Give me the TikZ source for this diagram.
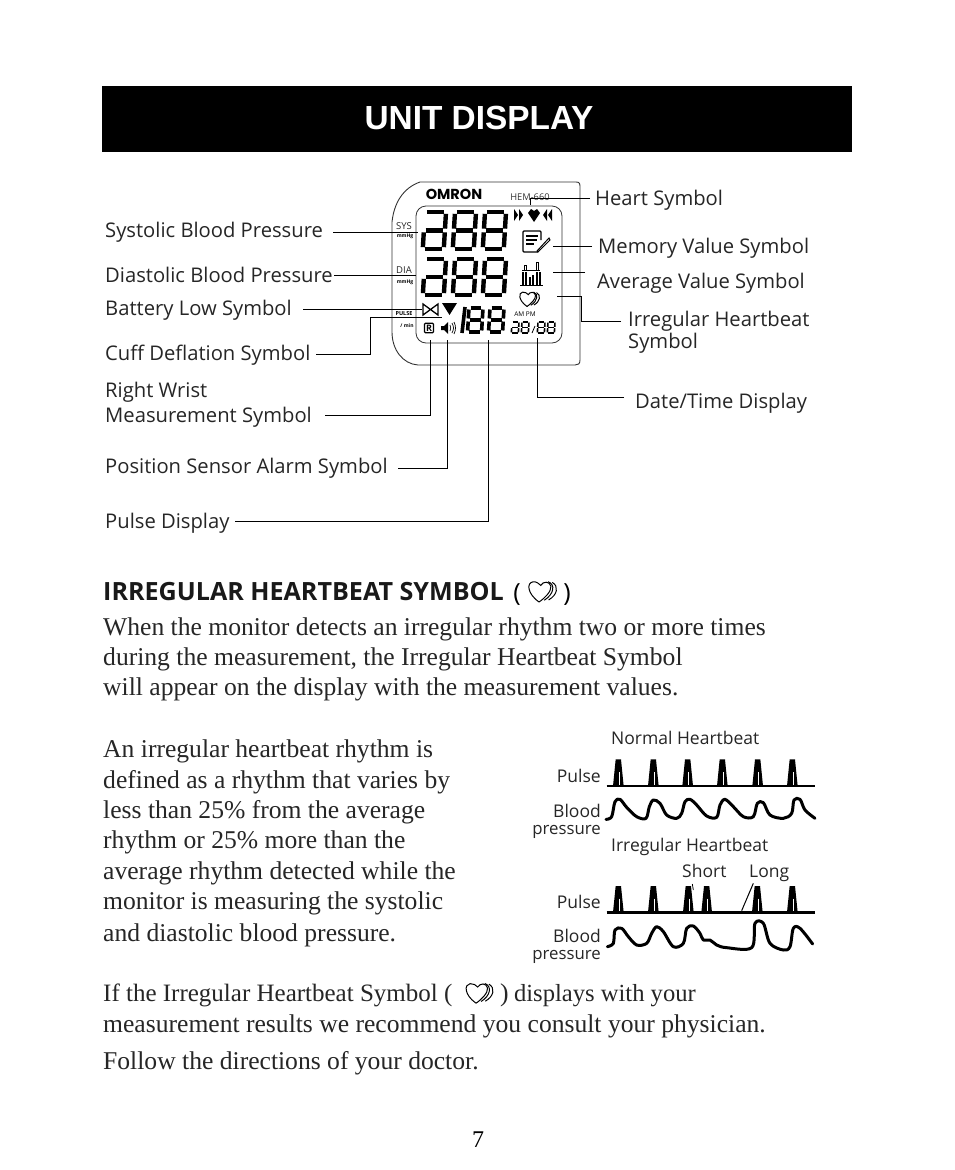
\documentclass[tikz,border=0pt]{standalone}
\usepackage{fontspec}
\setmainfont{Liberation Serif}
\newfontfamily\lblfont{Open Sans}
\newfontfamily\headfont{Liberation Sans}
\usetikzlibrary{calc}
\tikzset{
  lbl/.style={anchor=base west,inner sep=0pt,font=\lblfont\fontsize{20.2}{21}\selectfont,text=black!85},
  wavelbl/.style={anchor=base east,inner sep=0pt,font=\lblfont\fontsize{17.5}{18}\selectfont,text=black!85},
  wavepr/.style={anchor=base east,inner sep=0pt,font=\lblfont\fontsize{16.8}{18}\selectfont,text=black!85},
  wavetop/.style={anchor=base west,inner sep=0pt,font=\lblfont\fontsize{17.5}{18}\selectfont,text=black!85},
  body/.style={anchor=base west,inner sep=0pt,font=\fontsize{25.6}{26}\selectfont,text=black!85},
  lead/.style={draw=black,line width=1pt},
  wave/.style={draw=black,line width=3pt,line cap=round,line join=round},
  baseln/.style={draw=black,line width=2.4pt},
  tiny/.style={anchor=center,inner sep=0pt,font=\lblfont\fontsize{7}{8}\selectfont},
}
% seven segment digit: x y w h lw ; #6=1 draws the upper-left segment
\newcommand{\segdigit}[6]{%
  \begin{scope}[shift={(#1,#2)},x=1pt,y=-1pt,line width=#5pt,line cap=butt,xslant=0.06]
    \def\sg{#5*0.42}
    \draw (\sg,0) -- (#3-\sg,0);
    \draw (#3,\sg) -- (#3,#4/2-\sg);
    \draw (#3,#4/2+\sg) -- (#3,#4-\sg);
    \draw (\sg,#4) -- (#3-\sg,#4);
    \draw (0,#4/2+\sg) -- (0,#4-\sg);
    \draw (\sg,#4/2) -- (#3-\sg,#4/2);
    \ifnum#6=1 \draw (0,\sg) -- (0,#4/2-\sg);\fi
  \end{scope}}
\newcommand{\irrheart}[3]{%
  \begin{scope}[shift={(#1,#2)},x=#3pt,y=-#3pt,line width=1pt]
    \draw (0,6) .. controls (-7,1) and (-7,-5) .. (-3.5,-5.5) .. controls (-1.5,-5.8) and (0,-4.5) .. (1,-3.5)
      .. controls (2.5,-6) and (6,-6) .. (6.8,-3) .. controls (7.2,0) and (3,4) .. (0,6);
    \draw (5.2,-5.6) .. controls (9.5,-4) and (8.6,1.5) .. (3,5);
    \draw (7.6,-5.2) .. controls (11.5,-3) and (10.5,2) .. (5.5,4.8);
  \end{scope}}
\newcommand{\pulsepeak}[3]{% x top base
  \fill (#1-16,#3) -- (#1-8,#2) -- (#1+8,#2) -- (#1+16,#3) -- cycle;
  \draw[white,line width=.6pt] (#1+3,#2+38) -- (#1+3,#3-4);}
\begin{document}
\begin{tikzpicture}[x=1pt,y=-1pt]
\useasboundingbox (0,0) rectangle (954,1170);
\fill[white] (0,0) rectangle (954,1170);
% banner
\node[fill=black,minimum width=750pt,minimum height=66pt,inner sep=0pt,anchor=north west] (banner) at (102,86) {};
\node[text=white,inner sep=0pt,font=\headfont\bfseries\fontsize{33.4}{35}\selectfont] (title) at (479,118) {UNIT DISPLAY};

% device outline
\draw[draw=black!80,line width=.9pt] (392,222) .. controls (394,203) and (403,188) .. (420,182) -- (576,182)
  .. controls (580,182) and (580,184) .. (580,188) -- (580,360) .. controls (580,364) and (578,365) .. (575,365)
  -- (418,365) .. controls (403,364) and (392,350) .. (392,332) -- cycle;
% screen outline
\draw[draw=black!80,line width=.8pt,rounded corners=10pt] (416,206) -- (562,206) -- (562,343) -- (416,343) -- cycle;
% digits
\segdigit{425}{212}{21}{37}{4.4}{0}
\segdigit{455}{212}{21}{37}{4.4}{1}
\segdigit{485}{212}{21}{37}{4.4}{1}
\segdigit{425}{259}{21}{36}{4.4}{0}
\segdigit{455}{259}{21}{36}{4.4}{1}
\segdigit{485}{259}{21}{36}{4.4}{1}
\draw[line width=3.6pt] (465,307) -- (462,333);
\segdigit{469}{308}{14}{24}{3.6}{1}
\segdigit{490}{308}{14}{24}{3.6}{1}
\segdigit{512}{322}{7}{11}{1.6}{0}
\segdigit{522}{322}{7}{11}{1.6}{1}
\segdigit{538}{322}{7}{11}{1.6}{1}
\segdigit{548}{322}{7}{11}{1.6}{1}
\draw[line width=.8pt] (532,333) -- (535,326);
% device texts
\node[inner sep=0pt,font=\fontspec{Poppins}\bfseries\fontsize{14.5}{15}\selectfont] (logo) at (454,194) {OMRON};
\node[tiny,font=\lblfont\fontsize{9.3}{10}\selectfont,text=black!80] (model) at (530,197) {HEM-660};
\node[tiny,font=\lblfont\fontsize{9.5}{10}\selectfont,text=black!85] (sys) at (404,226) {SYS};
\node[tiny,font=\lblfont\bfseries\fontsize{5}{5}\selectfont] (mm1) at (405,236) {mmHg};
\node[tiny,font=\lblfont\fontsize{9.5}{10}\selectfont,text=black!85] (dia) at (404,270) {DIA};
\node[tiny,font=\lblfont\bfseries\fontsize{5}{5}\selectfont] (mm2) at (405,282) {mmHg};
\node[tiny,font=\lblfont\bfseries\fontsize{5.5}{6}\selectfont] (pl) at (404,314) {PULSE};
\node[tiny,font=\lblfont\bfseries\fontsize{5}{5}\selectfont] (mn) at (407,326) {/ min};
\node[tiny,font=\lblfont\fontsize{6.5}{7}\selectfont] (ampm) at (525,314) {AM PM};
% cuff symbol + triangle
\draw[line width=1.3pt] (423,304) -- (423,315) -- (438,304) -- (438,315) -- cycle;
\fill (442,303) -- (457,303) -- (449.5,315) -- cycle;
% R box + speaker
\node[draw=black,line width=1.2pt,rounded corners=1pt,inner sep=1.5pt,font=\lblfont\bfseries\fontsize{9}{9}\selectfont] (rbox) at (429,328) {R};
\fill (441,326) -- (444,326) -- (448,322) -- (448,334) -- (444,330) -- (441,330) -- cycle;
\draw[line width=.7pt] (450,325) .. controls (451,327) and (451,329) .. (450,331);
\draw[line width=.7pt] (452,323) .. controls (454,327) and (454,329) .. (452,333);
\draw[line width=.7pt] (454,322) .. controls (456,326) and (456,330) .. (454,334);
% top-right heart + arrows
\fill (514,209) -- (518,215) -- (514,221) -- cycle;
\fill (519,209) -- (523,215) -- (519,221) -- cycle;
\fill (552,209) -- (548,215) -- (552,221) -- cycle;
\fill (547,209) -- (543,215) -- (547,221) -- cycle;
\fill (534,222) -- (528,213) -- (531,209) -- (534,211) -- (537,209) -- (540,213) -- cycle;
% memory icon
\draw[line width=1.1pt,rounded corners=1pt] (541,240) -- (541,231) -- (523,231) -- (523,252) -- (538,252);
\draw[line width=1.3pt] (526,236) -- (538,236) (526,240) -- (537,240) (526,244) -- (534,244);
\draw[line width=1pt] (537,251) -- (549,238) -- (550,240) -- (538,252) -- cycle;
% average icon
\draw[line width=1pt] (522,270) -- (540,270) (538,270) -- (538,262) -- (536,262) -- (536,270);
\draw[line width=1pt] (526,270) -- (526,265) -- (524,265) -- (524,270);
\draw[line width=1.2pt] (523,272) -- (523,285) (526,272) -- (526,285) (530,277) -- (530,285) (533,275) -- (533,285) (537,272) -- (537,285) (540,272) -- (540,285);
\draw[line width=1pt] (520,285.5) -- (543,285.5);
% irregular heart on display
\irrheart{527}{299}{1.25}

% left labels
\node[lbl] (sysl) at (105,237) {Systolic Blood Pressure};
\node[lbl] (dial) at (105,282) {Diastolic Blood Pressure};
\node[lbl] (batl) at (105,315) {Battery Low Symbol};
\node[lbl] (cufl) at (105,360) {Cuff Deflation Symbol};
\node[lbl] (rw1) at (105,397) {Right Wrist};
\node[lbl] (rw2) at (105,422) {Measurement Symbol};
\node[lbl] (posl) at (105,473) {Position Sensor Alarm Symbol};
\node[lbl] (pull) at (105,528) {Pulse Display};
% right labels
\node[lbl] (heal) at (595,205) {Heart Symbol};
\node[lbl] (meml) at (598,253) {Memory Value Symbol};
\node[lbl] (avgl) at (597,288) {Average Value Symbol};
\node[lbl] (irl1) at (628,326) {Irregular Heartbeat};
\node[lbl] (irl2) at (628,348) {Symbol};
\node[lbl] (datl) at (635,408) {Date/Time Display};

% connector ends
\coordinate (eSys) at (418,232);
\coordinate (eDia) at (416,275);
\coordinate (eBat) at (422,309);
\coordinate (eCuf) at (442,317);
\coordinate (eRw) at (430,340);
\coordinate (ePos) at (447,340);
\coordinate (ePul) at (488,340);
\coordinate (eDat) at (537,338);
\coordinate (eHea) at (530,205);
\coordinate (eMem) at (553,246);
\coordinate (eAvg) at (553,272);
\coordinate (eIrr) at (557,296);
% connectors
\draw[lead] (333,232) -- (eSys);
\draw[lead] (334,275) -- (eDia);
\draw[lead] (303,309) -- (eBat);
\draw[lead] (316,354) -- (370,354) -- (370,317) -- (eCuf);
\draw[lead] (325,415) -- (430,415) -- (eRw);
\draw[lead] (398,468) -- (447,468) -- (ePos);
\draw[lead] (235,521) -- (488,521) -- (ePul);
\draw[lead] (624,397) -- (537,397) -- (eDat);
\draw[lead] (590,198) -- (530,198) -- (eHea);
\draw[lead] (592,246) -- (eMem);
\draw[lead] (585,272) -- (eAvg);
\draw[lead] (621,321) -- (581,321) -- (581,296) -- (eIrr);

% section heading
\node[anchor=base west,inner sep=0pt,font=\lblfont\bfseries\fontsize{25.1}{26}\selectfont,text=black!90] (head) at (103,600) {IRREGULAR HEARTBEAT SYMBOL};
\node[anchor=base,inner sep=0pt,font=\lblfont\fontsize{25}{26}\selectfont] (p1) at (517,601) {(};
\node[anchor=base,inner sep=0pt,font=\lblfont\fontsize{25}{26}\selectfont] (p2) at (567,601) {)};
\irrheart{539}{591.5}{1.75}

% body text
\node[body] (b1) at (103,635) {When the monitor detects an irregular rhythm two or more times};
\node[body] (b2) at (103,665) {during the measurement, the Irregular Heartbeat Symbol};
\node[body] (b3) at (103,695) {will appear on the display with the measurement values.};
\node[body] (c1) at (103,757) {An irregular heartbeat rhythm is};
\node[body] (c2) at (103,788) {defined as a rhythm that varies by};
\node[body] (c3) at (103,818) {less than 25\% from the average};
\node[body] (c4) at (103,848) {rhythm or 25\% more than the};
\node[body] (c5) at (103,879) {average rhythm detected while the};
\node[body] (c6) at (103,909) {monitor is measuring the systolic};
\node[body] (c7) at (103,941) {and diastolic blood pressure.};
\node[body,font=\fontsize{25}{26}\selectfont] (d1a) at (103,1001) {If the Irregular Heartbeat Symbol (};
\node[body] (d1b) at (500,1001) {)};
\node[body,anchor=base east,font=\fontsize{24.6}{26}\selectfont] (d1c) at (696,1001) {displays with your};
\irrheart{476}{993}{1.7}
\node[body] (d2) at (103,1032) {measurement results we recommend you consult your physician.};
\node[body] (d3) at (103,1069) {Follow the directions of your doctor.};
\node[anchor=base,inner sep=0pt,font=\fontsize{24}{25}\selectfont] (pg) at (478,1147) {7};

% wave labels
\node[wavetop] (w1) at (611,744) {Normal Heartbeat};
\node[wavelbl] (w2) at (601,782) {Pulse};
\node[wavelbl] (w3) at (601,817) {Blood};
\node[wavepr] (w4) at (601,834) {pressure};
\node[wavetop] (w5) at (611,851) {Irregular Heartbeat};
\node[wavetop] (w6) at (682,877) {Short};
\node[wavetop] (w7) at (749,877) {Long};
\node[wavelbl] (w8) at (601,908) {Pulse};
\node[wavelbl] (w9) at (601,942) {Blood};
\node[wavepr] (w10) at (601,959) {pressure};

% waveforms, in coordinates of a 3x crop
\begin{scope}[shift={(520,720)},x=0.33333pt,y=-0.33333pt]
  \draw[baseln] (260,198) -- (885,198);
  \foreach \p in {295,400,503,607,713,817} {\pulsepeak{\p}{118}{198}}
  \draw[wave] plot[smooth,tension=.55] coordinates {(258,298) (275,290) (285,245) (300,238) (320,262) (350,290) (378,295) (388,260) (400,240) (420,250) (440,285) (470,295) (485,280) (495,245) (510,238) (530,255) (560,288) (590,292) (600,255) (615,238) (640,260) (670,290) (700,290) (712,250) (730,248) (750,285) (790,295) (815,280) (822,240) (840,238) (855,270) (885,295)};
  \draw[baseln] (260,577) -- (885,577);
  \foreach \p in {295,400,505,560,712,817} {\pulsepeak{\p}{498}{577}}
  \draw[line width=1pt] (665,572) -- (700,490);
  \draw[line width=.8pt] (517,492) -- (520,510);
  \draw[wave] plot[smooth,tension=.55] coordinates {(262,680) (280,670) (285,630) (305,625) (325,650) (350,675) (380,670) (395,640) (410,620) (430,635) (460,680) (490,670) (500,625) (520,618) (540,640) (550,660) (570,660) (590,675) (620,683) (695,683) (705,610) (730,610) (750,670) (790,690) (810,680) (820,625) (840,625) (878,672)};
\end{scope}
\end{tikzpicture}
\end{document}
